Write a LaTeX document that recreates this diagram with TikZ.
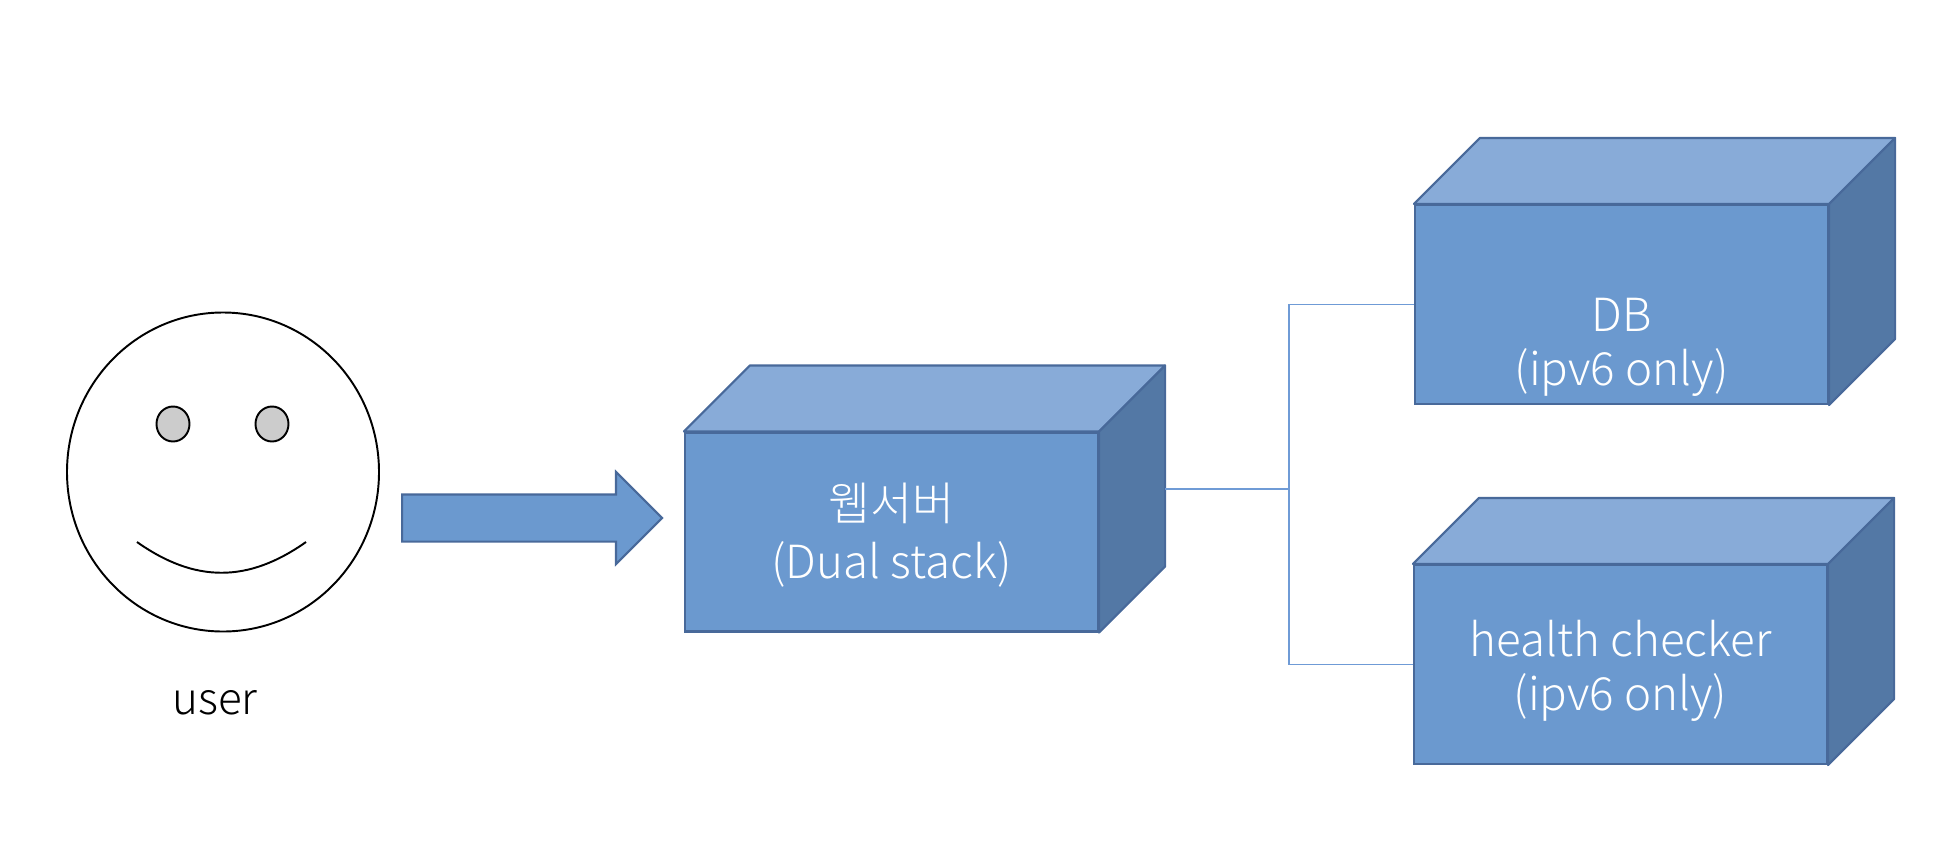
\documentclass[tikz,border=0pt]{standalone}
\usepackage{fontspec}
\setmainfont[UprightFont=* Light]{Noto Sans CJK KR}
\usepackage{xcolor}
\usetikzlibrary{positioning,shapes.geometric,shapes.arrows,calc}
\definecolor{boxfront}{HTML}{6B99CF}
\definecolor{boxtop}{HTML}{88ABD8}
\definecolor{boxside}{HTML}{5378A5}
\definecolor{boxline}{HTML}{48699A}
\definecolor{linkline}{HTML}{6F9BD6}
\definecolor{eyegray}{HTML}{CCCCCC}

\begin{document}
\begin{tikzpicture}[
  box/.style={draw=boxline,fill=boxfront,line width=.6pt,minimum width=4.13cm,minimum height=1.99cm,
    inner sep=0pt,text=white,align=center,font=\fontsize{13}{15.4}\selectfont},
  topface/.style={draw=boxline,fill=boxtop,line width=.6pt,line join=round},
  sideface/.style={draw=boxline,fill=boxside,line width=.6pt,line join=round},
  eye/.style={draw,fill=eyegray,ellipse,line width=.55pt,inner sep=0pt,minimum width=.33cm,minimum height=.35cm},
  link/.style={draw=linkline,line width=.35pt}
]
\useasboundingbox (0,0) rectangle (19.4,-8.66);
\node[draw,ellipse,line width=.55pt,inner sep=0pt,minimum width=3.12cm,minimum height=3.19cm] (face) at (2.23,-4.72) {};
\node[eye] (lefteye) at (1.73,-4.24) {};
\node[eye] (righteye) at (2.72,-4.24) {};
\coordinate (smileleft) at (1.37,-5.42);
\coordinate (smileright) at (3.06,-5.42);
\draw[line width=.55pt] (smileleft) .. controls (1.95,-5.83) and (2.48,-5.83) .. (smileright);
\node[font=\fontsize{12.5}{15.4}\selectfont] (user) at (2.15,-7.03) {user};
\node[single arrow,draw=boxline,fill=boxfront,line width=.6pt,inner xsep=0pt,inner ysep=.225cm,minimum height=2.6cm,minimum width=.91cm,
  single arrow head extend=.225cm,single arrow tip angle=90,single arrow head indent=0pt] (toserver) at (5.203,-5.18) {};
\node[box] (server) at (8.915,-5.32) {\mbox{}\\[-2.8pt]웹서버\\[1.2pt](Dual stack)};
\node[box] (db) at (16.215,-3.045) {\mbox{}\\[18.2pt]DB\\(ipv6 only)};
\node[box] (checker) at (16.205,-6.645) {\mbox{}\\[-1.4pt]health checker\\(ipv6 only)};
\foreach \n in {server,db,checker}{
  \draw[topface] (\n.north west) -- ++(.66,.66) -- ($(\n.north east)+(.66,.66)$) -- (\n.north east) -- cycle;
  \draw[sideface] (\n.north east) -- ++(.66,.66) -- ($(\n.south east)+(.66,.66)$) -- (\n.south east) -- cycle;
}
\coordinate (serverport) at (11.65,-4.89);
\coordinate (bus) at (12.89,-4.89);
\draw[link,line width=.5pt] (serverport) -- (bus);
\draw[link] (bus) |- (db.west);
\draw[link] (bus) |- (checker.west);
\end{tikzpicture}
\end{document}
